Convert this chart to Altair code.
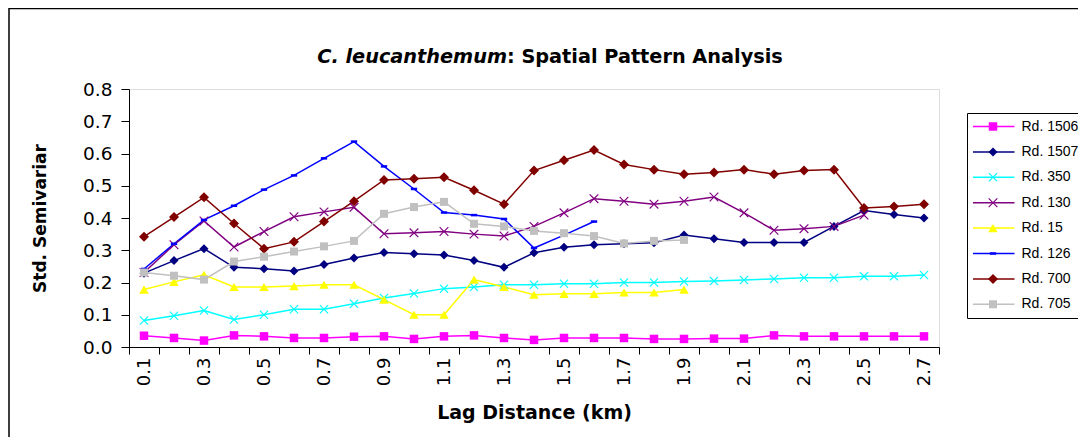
import altair as alt
import pandas as pd

lags = ["0.1", "0.2", "0.3", "0.4", "0.5", "0.6", "0.7", "0.8", "0.9", "1.0",
        "1.1", "1.2", "1.3", "1.4", "1.5", "1.6", "1.7", "1.8", "1.9", "2.0",
        "2.1", "2.2", "2.3", "2.4", "2.5", "2.6", "2.7"]
y_ticks = [0.0, 0.1, 0.2, 0.3, 0.4, 0.5, 0.6, 0.7, 0.8]

series_names = ["Rd. 1506", "Rd. 1507", "Rd. 350", "Rd. 130",
                "Rd. 15", "Rd. 126", "Rd. 700", "Rd. 705"]

rd1506 = [0.035, 0.028, 0.020, 0.036, 0.033, 0.028, 0.028, 0.032, 0.033, 0.025,
          0.033, 0.036, 0.028, 0.022, 0.028, 0.028, 0.028, 0.025, 0.025,
          0.026, 0.026, 0.036, 0.033, 0.033, 0.033, 0.033, 0.033]
rd1507 = [0.229, 0.268, 0.305, 0.247, 0.243, 0.236, 0.256, 0.276, 0.293, 0.289,
          0.285, 0.268, 0.247, 0.292, 0.309, 0.317, 0.320, 0.323, 0.347,
          0.336, 0.324, 0.324, 0.324, 0.374, 0.423, 0.411, 0.400]
rd350 = [0.082, 0.097, 0.113, 0.085, 0.100, 0.117, 0.117, 0.134, 0.152, 0.166,
         0.181, 0.186, 0.193, 0.193, 0.196, 0.196, 0.200, 0.200, 0.203,
         0.205, 0.208, 0.211, 0.215, 0.215, 0.219, 0.219, 0.223]
rd130 = [0.231, 0.317, 0.391, 0.310, 0.358, 0.404, 0.419, 0.433, 0.351, 0.354,
         0.358, 0.350, 0.344, 0.374, 0.416, 0.460, 0.452, 0.443, 0.452,
         0.465, 0.416, 0.362, 0.367, 0.374, 0.409]
rd15 = [0.178, 0.202, 0.224, 0.186, 0.186, 0.189, 0.193, 0.193, 0.147, 0.100,
        0.100, 0.209, 0.186, 0.162, 0.165, 0.165, 0.169, 0.169, 0.178]
rd126 = [0.242, 0.320, 0.394, 0.438, 0.488, 0.532, 0.585, 0.637, 0.560, 0.490,
         0.417, 0.409, 0.397, 0.307, 0.347, 0.389]
rd700 = [0.342, 0.403, 0.464, 0.383, 0.305, 0.326, 0.389, 0.452, 0.518, 0.522,
         0.526, 0.486, 0.443, 0.547, 0.579, 0.611, 0.566, 0.550, 0.536,
         0.541, 0.550, 0.536, 0.547, 0.550, 0.431, 0.436, 0.443]
rd705 = [0.231, 0.221, 0.209, 0.265, 0.280, 0.296, 0.312, 0.329, 0.413, 0.434,
         0.450, 0.382, 0.374, 0.360, 0.353, 0.344, 0.321, 0.329, 0.332]

all_values = [rd1506, rd1507, rd350, rd130, rd15, rd126, rd700, rd705]

colors = ["#FF00FF", "#000080", "#00FFFF", "#800080",
          "#FFFF00", "#0000FF", "#800000", "#C0C0C0"]
X_PATH = ("M-1,-0.83L-0.83,-1L0,-0.17L0.83,-1L1,-0.83L0.17,0L1,0.83L0.83,1"
          "L0,0.17L-0.83,1L-1,0.83L-0.17,0Z")
DASH_PATH = "M-1,-0.4L1,-0.4L1,0.4L-1,0.4Z"
LINE_PATH = "M-4.667,0L4.667,0"
shapes = ["square", "diamond", X_PATH, X_PATH, "triangle-up", DASH_PATH, "diamond", "square"]
sizes = [72, 81, 81, 90, 90, 40, 100, 64]

rows = []
for name, vals in zip(series_names, all_values):
    for lag, v in zip(lags, vals):
        rows.append({"lag": lag, "value": v, "series": name, "series_m": name})
df = pd.DataFrame(rows)

FONT = "DejaVu Sans"
LFONT = "Liberation Sans"

x_enc = alt.X(
    "lag:N",
    sort=lags,
    scale=alt.Scale(type="band", domain=lags, paddingInner=0, paddingOuter=0),
    axis=alt.Axis(
        title="Lag Distance (km)",
        labelAngle=270,
        labelExpr="round(toNumber(datum.value)*10) % 2 == 1 ? datum.label : ''",
        tickBand="extent",
        tickSize=7,
        labelPadding=3,
        labelFont=FONT,
        labelFontSize=18,
        labelColor="black",
        domainColor="black",
        tickColor="black",
        titleFont=FONT,
        titleFontSize=19,
        titleFontWeight="bold",
        titleColor="black",
        titleBaseline="alphabetic",
        titleY=71,
        grid=False,
    ),
)
y_enc = alt.Y(
    "value:Q",
    scale=alt.Scale(domain=[0, 0.8], nice=False, zero=True),
    axis=alt.Axis(
        values=y_ticks,
        format=".1f",
        title="Std. Semivariar",
        tickSize=8,
        labelPadding=9,
        labelFont=FONT,
        labelFontSize=18.5,
        labelColor="black",
        domainColor="black",
        tickColor="black",
        titleFont=FONT,
        titleFontSize=17,
        titleFontWeight="bold",
        titleColor="black",
        titleAngle=270,
        titleAlign="center",
        titleBaseline="alphabetic",
        titleX=-84,
        titleY=129,
        grid=False,
    ),
)

legend_common = dict(
    orient="none",
    title=None,
    labelFont=LFONT,
    labelFontSize=14,
    labelColor="black",
    rowPadding=10.4,
    padding=6,
    clipHeight=15,
    legendX=838,
    legendY=24,
)

# line legend: draws the box, the line pieces and the labels
lines = alt.Chart(df).mark_line(strokeWidth=1.5).encode(
    x=x_enc,
    y=y_enc,
    stroke=alt.Stroke(
        "series:N",
        sort=series_names,
        scale=alt.Scale(range=colors),
        legend=alt.Legend(
            symbolType=LINE_PATH, symbolSize=81, symbolStrokeWidth=1.5,
            symbolOffset=13.5, labelOffset=21,
            strokeColor="black", fillColor="white",
            **legend_common,
        ),
    ),
)

# marker legend: only the markers, drawn on top of the line pieces
marker_legend = alt.Legend(
    labelExpr="' '",
    symbolStrokeWidth=0,
    symbolOpacity=1,
    symbolOffset=13,
    labelOffset=21,
    **legend_common,
)

points = alt.Chart(df).mark_point(filled=True, opacity=1, strokeWidth=0).encode(
    x=x_enc,
    y=y_enc,
    fill=alt.Fill("series_m:N", sort=series_names,
                  scale=alt.Scale(domain=series_names, range=colors),
                  legend=marker_legend),
    shape=alt.Shape("series_m:N", sort=series_names,
                    scale=alt.Scale(domain=series_names, range=shapes),
                    legend=marker_legend),
    size=alt.Size("series_m:N", sort=series_names,
                  scale=alt.Scale(type="ordinal", domain=series_names, range=sizes),
                  legend=marker_legend),
)

one = alt.Data(values=[{}])

frame = alt.Chart(one).mark_rect(fillOpacity=0, stroke="black", strokeWidth=1.5).encode(
    x=alt.value(-120), x2=alt.value(1100), y=alt.value(-80.5), y2=alt.value(500)
)

title_a = alt.Chart(one).mark_text(
    text="C. leucanthemum", font=FONT, fontSize=19.3, fontStyle="italic",
    fontWeight="bold", align="right", baseline="middle", color="black",
).encode(x=alt.value(378), y=alt.value(-32))

title_b = alt.Chart(one).mark_text(
    text=": Spatial Pattern Analysis", font=FONT, fontSize=19.3,
    fontWeight="bold", align="left", baseline="middle", color="black",
).encode(x=alt.value(378), y=alt.value(-32))

chart = alt.layer(frame, lines, points, title_a, title_b).properties(
    width=810,
    height=258,
    autosize=alt.AutoSizeParams(type="none"),
    padding={"left": 121, "top": 81, "right": 139, "bottom": 90},
    background="white",
).configure_view(
    stroke="#A0A0A0", strokeWidth=1
).configure(font=FONT)

chart.save("out.html", embed_options={"renderer": "svg", "actions": False})
